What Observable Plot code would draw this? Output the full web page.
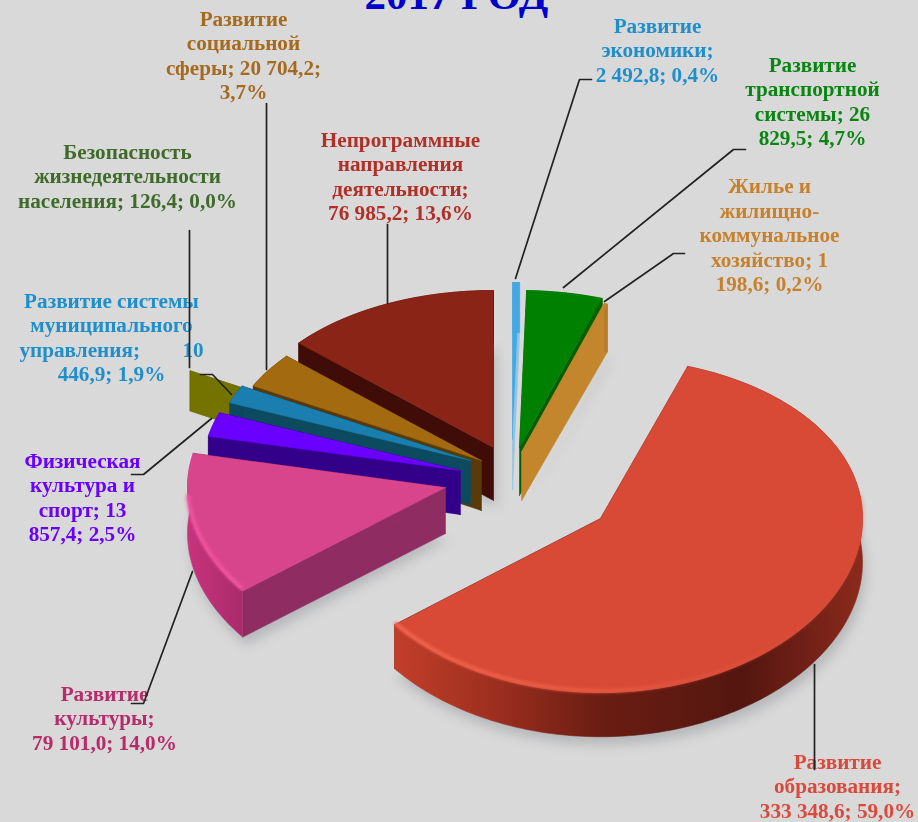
<!DOCTYPE html>
<html lang="ru">
<head>
<meta charset="utf-8">
<title>2017 ГОД</title>
<script src="https://cdn.jsdelivr.net/npm/d3@7"></script>
<script src="https://cdn.jsdelivr.net/npm/@observablehq/plot@0.6"></script>
<style>
html,body{margin:0;padding:0;background:#d9d9d9;overflow:hidden}
svg{display:block}
</style>
</head>
<body>
<div id="chart"></div>
<script>
// ---------- data ----------
const title = "2017 ГОД";
const categories = [
  "Развитие экономики",
  "Развитие транспортной системы",
  "Жилье и жилищно-коммунальное хозяйство",
  "Развитие образования",
  "Развитие культуры",
  "Физическая культура и спорт",
  "Развитие системы муниципального управления",
  "Безопасность жизнедеятельности населения",
  "Развитие социальной сферы",
  "Непрограммные направления деятельности"
];
const values = [2492.8, 26829.5, 1198.6, 333348.6, 79101.0, 13857.4, 10446.9, 126.4, 20704.2, 76985.2];
const labelLines = [
  ["Развитие", "экономики;", "2 492,8; 0,4%"],
  ["Развитие", "транспортной", "системы; 26", "829,5; 4,7%"],
  ["Жилье и", "жилищно-", "коммунальное", "хозяйство; 1", "198,6; 0,2%"],
  ["Развитие", "образования;", "333 348,6; 59,0%"],
  ["Развитие", "культуры;", "79 101,0; 14,0%"],
  ["Физическая", "культура и", "спорт; 13", "857,4; 2,5%"],
  ["Развитие системы", "муниципального", "управления;\u00a0\u00a0\u00a0\u00a0\u00a0\u00a0\u00a0\u00a010", "446,9; 1,9%"],
  ["Безопасность", "жизнедеятельности", "населения; 126,4; 0,0%"],
  ["Развитие", "социальной", "сферы; 20 704,2;", "3,7%"],
  ["Непрограммные", "направления", "деятельности;", "76 985,2; 13,6%"]
];

// ---------- styles ----------
const topColors  = ["#46a8e2", "#008000", "#c4862c", "#d84a36", "#d9458c", "#6a00ff", "#1a7fb0", "#757300", "#a36a10", "#8a2416"];
const wallColors = ["#8fc4e4", "#006000", "#c4862c", "#5c1a10", "#8f2c62", "#33008a", "#0c4a60", "#757300", "#5a3a08", "#3f0c08"];
const rimColors  = ["#46a8e2", "#006000", "#b87c28", "url(#rimEdu)", "url(#rimCult)", "#33008a", "#0c4a60", "#6e6c00", "#5a3a08", "#3f0c08"];
const labelColors = ["#1f8fcc", "#0a8512", "#c7812c", "#d94a3c", "#b82a68", "#6a00ff", "#1f8fcc", "#3f6b2a", "#a56a1e", "#b03028"];

// ---------- layout of the exploded, tilted pie ----------
const radiusX = [258, 258, 258, 262, 258, 258, 258, 258, 258, 258];
const radiusYScale = [1, 1, 1, 1.025, 1, 1, 1, 1, 1, 1];
const radiusYMid = 163.5, radiusYTilt = 6.5;
const apexX = [512, 519, 521, 600, 445, 460, 470, 418, 481, 493];
const apexY = [439, 447, 452, 518, 487, 470, 460, 445, 460, 447];
const depth = [50, 48, 48, 44, 46, 44, 44, 40, 50, 53];
const paintOrder = [9, 8, 7, 6, 5, 4, 0, 1, 2, 3];
const minSweep = 0.0008;
const labelX = [657, 812, 769, 837, 104, 82, 111, 127, 243, 400];
const labelY = [50, 101, 235, 786, 718, 497, 337, 176, 55, 176];
const leaders = [
  [[591,79],[579,79],[515,278]],
  [[745,149],[733,149],[563,287]],
  [[684,253],[673,253],[604,301]],
  [[814,664],[814,769]],
  [[131,703],[143,703],[192,571]],
  [[131,474],[143,474],[211,418]],
  [[200,374],[212,374],[231,394]],
  [[189,230],[189,367]],
  [[266,103],[266,369]],
  [[387,224],[387,303]]
];

// ---------- geometry derived from the values ----------
const total = d3.sum(values);
const cum = d3.cumsum(values);
const arcs = values.map((v, i) => ({
  a0: (cum[i] - v) / total * 2 * Math.PI,
  a1: cum[i] / total * 2 * Math.PI
}));
const rimPoint = (i, a, dz = 0) => {
  const u = Math.sin(a), w = -Math.cos(a);
  return [apexX[i] + radiusX[i] * u, apexY[i] + radiusYScale[i] * w * (radiusYMid + radiusYTilt * w) + dz];
};
const rimArc = (i, dz = 0, from = arcs[i].a0, to = arcs[i].a1) => {
  const n = Math.max(2, Math.ceil((to - from) / 0.02));
  return d3.range(n + 1).map(k => rimPoint(i, from + (to - from) * k / n, dz));
};
const apex = (i, dz = 0) => [apexX[i], apexY[i] + dz];

const poly = (pts, fill, extra = {}) =>
  Plot.line(pts, {x: d => d[0], y: d => d[1], fill, stroke: fill, strokeWidth: 0.6, imageFilter: "blur(0.7px)", ...extra});

const marks = [];

// gradients
marks.push(() => {
  const defs = d3.create("svg:defs");
  const grad = (id, x1, x2, stops) => {
    const g = defs.append("linearGradient").attr("id", id)
      .attr("gradientUnits", "userSpaceOnUse").attr("x1", x1).attr("x2", x2).attr("y1", 0).attr("y2", 0);
    stops.forEach(([o, c, op]) => g.append("stop").attr("offset", o).attr("stop-color", c).attr("stop-opacity", op ?? 1));
  };
  grad("rimEdu", 393, 860, [[0, "#c23e2a"], [0.2, "#a03020"], [0.45, "#6a1d12"], [0.75, "#541610"], [1, "#8a2a1c"]]);
  grad("rimCult", 186, 246, [[0, "#c8337e"], [1, "#a82a6a"]]);
  grad("glowEdu", 395, 860, [[0, "#f2664e"], [0.5, "#ea5a44", 0.8], [1, "#d84a36", 0.2]]);
  return defs.node();
});

// soft shadows on the ground
for (const i of [3, 4, 9, 2]) {
  marks.push(poly([apex(i, depth[i] + 6), ...rimArc(i, depth[i] + 8)].map(([x, y]) => [x + 3, y]), "#6e7078", {fillOpacity: 0.32, strokeOpacity: 0, imageFilter: "blur(6px)"}));
}

// slices, painted from back to front
for (const i of paintOrder) {
  const {a0} = arcs[i];
  const a1 = Math.max(arcs[i].a1, a0 + minSweep);
  const d = depth[i];
  const wall = (a) => [apex(i), rimPoint(i, a), rimPoint(i, a, d), apex(i, d)];
  marks.push(poly(wall(a0), wallColors[i]));
  marks.push(poly(wall(a1), wallColors[i]));
  marks.push(poly([...rimArc(i, 0, a0, a1), ...rimArc(i, d, a0, a1).reverse()], rimColors[i]));
  marks.push(poly([apex(i), ...rimArc(i, 0, a0, a1)], topColors[i]));
}

// lit bevels along the front rims
marks.push(Plot.line(rimArc(3, -2, arcs[3].a1 - 2.6, arcs[3].a1 - 0.01), {x: d => d[0], y: d => d[1], stroke: "url(#glowEdu)", strokeWidth: 4, imageFilter: "blur(1.5px)"}));
marks.push(Plot.line(rimArc(4, -2, arcs[4].a0 + 0.01, arcs[4].a0 + 0.6), {x: d => d[0], y: d => d[1], stroke: "#f0559f", strokeWidth: 4, imageFilter: "blur(1.5px)"}));

// title
marks.push(Plot.text([title], {
  x: () => 456, y: () => 8, text: d => d, lineAnchor: "bottom",
  fontFamily: "Liberation Serif", fontWeight: "bold", fontSize: 43, fill: "#0000cc"
}));

// labels
labelLines.forEach((lines, i) => marks.push(Plot.text([lines.join("\n")], {
  x: () => labelX[i], y: () => labelY[i] - 1, text: d => d,
  lineAnchor: "middle", textAnchor: "middle", lineHeight: 1.156,
  fontFamily: "Liberation Serif", fontWeight: "bold", fontSize: 21.2, fill: labelColors[i],
  imageFilter: "blur(0.3px)"
})));

// leader lines
leaders.forEach(pts => marks.push(Plot.line(pts, {
  x: d => d[0], y: d => d[1], stroke: "#222222", strokeWidth: 1.7, imageFilter: "blur(0.3px)"
})));

const chart = Plot.plot({
  width: 918, height: 822,
  margin: 0,
  style: {background: "#d9d9d9"},
  x: {domain: [0, 918], range: [0, 918], axis: null},
  y: {domain: [0, 822], range: [0, 822], axis: null},
  marks
});
document.getElementById("chart").appendChild(chart);
</script>
</body>
</html>
